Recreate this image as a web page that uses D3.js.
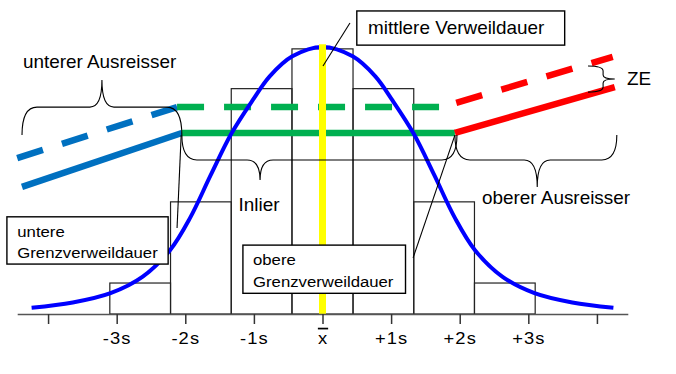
<!DOCTYPE html>
<html><head><meta charset="utf-8">
<script src="https://cdn.jsdelivr.net/npm/d3@7"></script>
<style>
body{margin:0;background:#fff}
svg{display:block}
text{font-family:"Liberation Sans",Arial,sans-serif;fill:#000}
</style>
</head><body>
<svg id="c" width="676" height="374"></svg>
<script>
// ---- data (x in units of s around the mean, y in relative frequency 0..100) ----
const tickValues = [-4, -3, -2, -1, 0, 1, 2, 3, 4];
const tickLabels = ["", "-3s", "-2s", "-1s", "x", "+1s", "+2s", "+3s", ""];
const binStart  = [-3.10, -2.215, -1.33, -0.445, 0.445, 1.33, 2.215];
const binEnd    = [-2.215, -1.33, -0.445, 0.445, 1.33, 2.215, 3.10];
const binHeight = [11.6, 42, 84.4, 99.3, 84.4, 42, 11.6];
const curveX = [-4.24, -3.64, -3.09, -2.62, -2.22, -1.93, -1.63, -1.33, -1.02, -0.77, -0.44, 0, 0.44, 0.77, 1.02, 1.33, 1.63, 1.93, 2.22, 2.62, 3.09, 3.64, 4.24];
const curveY = [2.3, 4.3, 7.8, 14, 24, 36, 52, 67.5, 80, 89, 96.5, 100, 96.5, 89, 80, 67.5, 52, 36, 24, 14, 7.8, 4.3, 2.3];
// cost lines: lower outlier / inlier / upper outlier
const solidX = [-4.38, -2.05, 1.93, 4.26];
const solidY = [47.6, 67.8, 67.8, 85.0];
const dashX  = [-4.45, -2.12, 1.74, 4.23];
const dashY  = [58.4, 77.5, 77.5, 96.3];
const segNames = ["unterer Ausreisser", "Inlier", "oberer Ausreisser"];
const meanX = 0, meanTop = 101;

// ---- scales ----
const svg = d3.select("#c");
const x = d3.scaleLinear().domain([-4.45, 4.45]).range([17.2, 627.8]);
const y = d3.scaleLinear().domain([0, 100]).range([314, 47]);
const colors = ["#0070c0", "#00b050", "#ff0000"];
const SX = 1.08;

// ---- histogram bars ----
svg.append("g").selectAll("rect").data(binStart).join("rect")
  .attr("x", (d) => x(d))
  .attr("y", (d, i) => y(binHeight[i]))
  .attr("width", (d, i) => x(binEnd[i]) - x(d))
  .attr("height", (d, i) => y(0) - y(binHeight[i]))
  .attr("fill", "none").attr("stroke", "#222").attr("stroke-width", 1.2);

// ---- cost lines ----
const lineG = svg.append("g");
[0, 1, 2].forEach(i => {
  lineG.append("line")
    .attr("x1", x(solidX[i])).attr("y1", y(solidY[i]))
    .attr("x2", x(solidX[i + 1])).attr("y2", y(solidY[i + 1]))
    .attr("stroke", colors[i]).attr("stroke-width", 6.5);
  lineG.append("line")
    .attr("x1", x(dashX[i])).attr("y1", y(dashY[i]))
    .attr("x2", x(dashX[i + 1])).attr("y2", y(dashY[i + 1]))
    .attr("stroke", colors[i]).attr("stroke-width", 6.5)
    .attr("stroke-dasharray", "27,20")
    .attr("stroke-dashoffset", i === 2 ? 32 : 0);
});

// ---- normal curve ----
svg.append("path")
  .datum(curveX.map((d, i) => [d, curveY[i]]))
  .attr("d", d3.line().x(d => x(d[0])).y(d => y(d[1])).curve(d3.curveCatmullRom.alpha(0.5)))
  .attr("fill", "none").attr("stroke", "#0000ff").attr("stroke-width", 4);

// ---- mean line ----
svg.append("line")
  .attr("x1", x(meanX)).attr("x2", x(meanX))
  .attr("y1", y(0)).attr("y2", y(meanTop))
  .attr("stroke", "#ffff00").attr("stroke-width", 7);

// ---- axis ----
const axis = d3.axisBottom(x).tickValues(tickValues)
  .tickFormat((d, i) => tickLabels[i]).tickSize(10).tickSizeOuter(0).tickPadding(8);
const ag = svg.append("g").attr("transform", `translate(0,${y(0)})`).call(axis);
ag.select(".domain").attr("stroke", "#555").attr("stroke-width", 1.6);
ag.selectAll(".tick line").attr("stroke", "#333").attr("stroke-width", 1.5);
ag.selectAll(".tick text")
  .attr("font-family", '"Liberation Sans",Arial,sans-serif')
  .attr("font-size", 17).attr("fill", "#000")
  .attr("letter-spacing", 1)
  .attr("transform", `scale(${SX},1)`)
  .style("text-decoration", (d) => d === 0 ? "overline" : null);

// ---- braces ----
function hBrace(x1, x2, xt, yEnd, yMid, yTip, r, rt) {
  const X1 = x(x1), X2 = x(x2), XT = x(xt), YE = y(yEnd), YM = y(yMid), YT = y(yTip);
  return `M${X1},${YE} Q${X1},${YM} ${X1 + r},${YM} L${XT - rt},${YM} Q${XT},${YM} ${XT},${YT} ` +
         `Q${XT},${YM} ${XT + rt},${YM} L${X2 - r},${YM} Q${X2},${YM} ${X2},${YE}`;
}
function vBrace(xEnd, xMid, xTip, y1, y2, yTip, r, rt) {
  const XE = x(xEnd), XM = x(xMid), XT = x(xTip), Y1 = y(y1), Y2 = y(y2), YT = y(yTip);
  return `M${XE},${Y1} Q${XM},${Y1} ${XM},${Y1 + r} L${XM},${YT - rt} Q${XM},${YT} ${XT},${YT} ` +
         `Q${XM},${YT} ${XM},${YT + rt} L${XM},${Y2 - r} Q${XM},${Y2} ${XE},${Y2}`;
}
const annG = svg.append("g").attr("fill", "none").attr("stroke", "#000").attr("stroke-width", 1.1);
annG.append("path").attr("d", hBrace(-4.38, -2.05, -3.215, 67.0, 77.5, 87.6, 15, 12));
annG.append("path").attr("d", hBrace(-2.05, 1.96, -0.91, 67.0, 57.7, 50.2, 15, 13));
annG.append("path").attr("d", hBrace(1.93, 4.29, 3.13, 67.0, 57.7, 47.6, 15, 13));
annG.append("path").attr("d", vBrace(3.87, 4.09, 4.26, 92.9, 83.1, 88.0, 5, 4));

// leader lines
annG.append("line").attr("x1", x(0.40)).attr("y1", y(109)).attr("x2", x(0.007)).attr("y2", y(92.9));
annG.append("line").attr("x1", x(-2.06)).attr("y1", y(67.0)).attr("x2", x(-2.12)).attr("y2", y(32.2));
annG.append("line").attr("x1", x(1.93)).attr("y1", y(67.0)).attr("x2", x(1.32)).attr("y2", y(21.0));

// ---- label boxes ----
function box(x1, x2, v1, v2) {
  svg.append("rect").attr("x", x(x1)).attr("y", y(v1))
    .attr("width", x(x2) - x(x1)).attr("height", y(v2) - y(v1))
    .attr("fill", "#fff").attr("stroke", "#000").attr("stroke-width", 1.4);
}
function label(xs, v, txt, size, anchor) {
  svg.append("text")
    .attr("transform", `translate(${x(xs)},${y(v)}) scale(${SX},1)`)
    .attr("font-size", size).attr("text-anchor", anchor || "start").text(txt);
}
box(0.50, 3.53, 113.5, 100.7);
box(-4.60, -2.25, 36.4, 18.7);
box(-1.16, 1.21, 25.8, 7.75);

label(0.663, 104.9, "mittlere Verweildauer", 17.5);
label(-4.366, 92.1, segNames[0], 17.5);
label(-0.926, 38.6, segNames[1], 17.5, "middle");
label(2.325, 41.2, segNames[2], 17.5);
label(4.439, 85.8, "ZE", 17.5);
label(-4.449, 28.95, "untere", 15.5);
label(-4.449, 20.86, "Grenzverweildauer", 15.5);
label(-1.013, 18.35, "obere", 15.5);
label(-1.013, 10.22, "Grenzverweildauer", 15.5);
</script>
</body></html>
